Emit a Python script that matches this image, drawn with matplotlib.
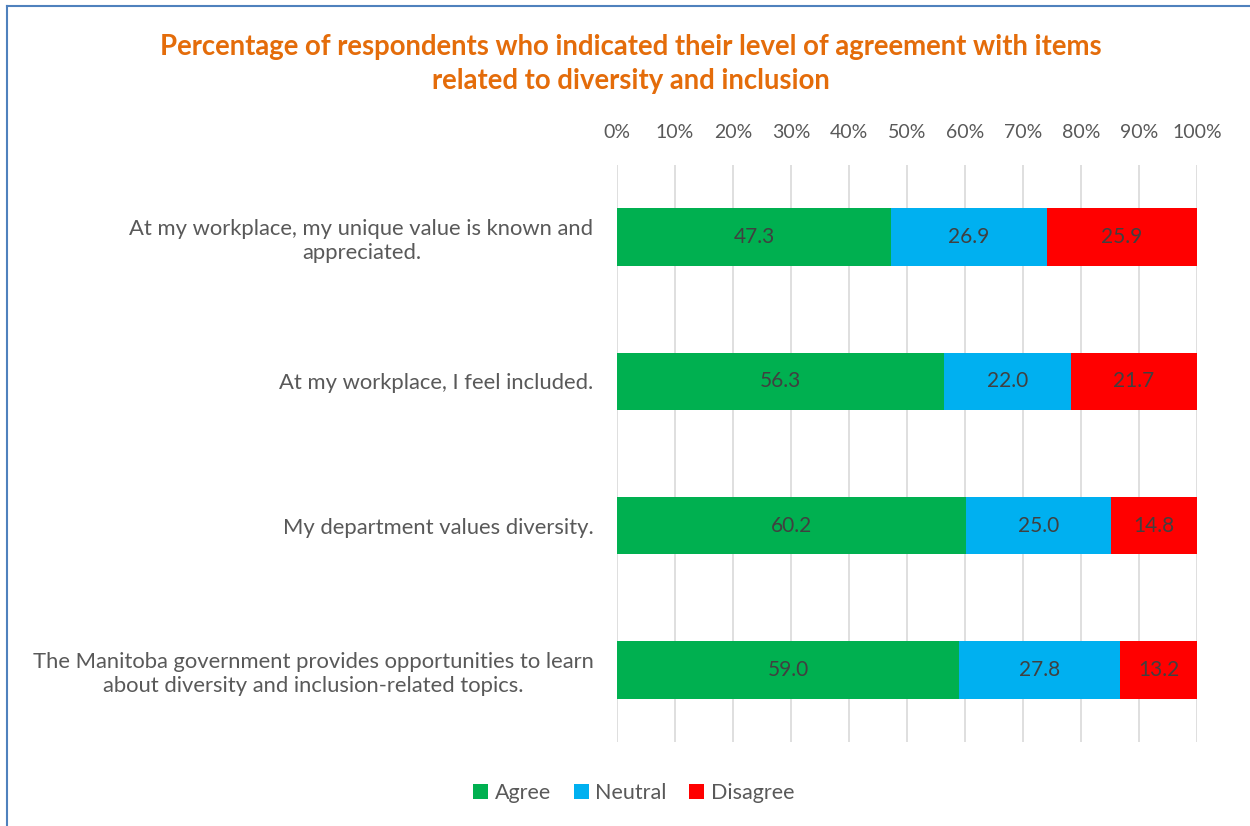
import matplotlib
matplotlib.use("Agg")
import matplotlib.pyplot as plt
from matplotlib.lines import Line2D
import numpy as np

plt.rcParams['font.family'] = ['Lato', 'DejaVu Sans']

categories = [
    "At my workplace, my unique value is known and\nappreciated.",
    "At my workplace, I feel included.",
    "My department values diversity.",
    "The Manitoba government provides opportunities to learn\nabout diversity and inclusion-related topics.",
]
agree = [47.3, 56.3, 60.2, 59.0]
neutral = [26.9, 22.0, 25.0, 27.8]
disagree = [25.9, 21.7, 14.8, 13.2]
series_names = ["Agree", "Neutral", "Disagree"]
colors = ["#00B050", "#00B0F0", "#FF0000"]
tick_labels = [f"{v}%" for v in range(0, 101, 10)]

fig = plt.figure(figsize=(12.5, 8.26), dpi=100)
ax = fig.add_axes([617 / 1250, 1 - 742 / 826, 580 / 1250, 577 / 826])

data = np.array([agree, neutral, disagree])
shares = data / data.sum(axis=0) * 100  # 100% stacked
y = np.arange(len(categories))
left = np.zeros(len(categories))
for name, col, vals, raw in zip(series_names, colors, shares, data):
    ax.barh(y, vals, left=left, height=0.4, color=col, label=name, zorder=2)
    for yi, l, v, r in zip(y, left, vals, raw):
        ax.text(l + v / 2, yi, f"{r:.1f}", ha="center", va="center",
                fontsize=15, color="#404040", zorder=3)
    left += vals

ax.set_xlim(0, 100)
ax.set_ylim(len(categories) - 0.5, -0.5)
ax.set_xticks(np.arange(0, 101, 10))
ax.set_xticklabels(tick_labels)
ax.xaxis.tick_top()
ax.tick_params(axis="x", length=0, pad=17, labelsize=14, labelcolor="#595959")
ax.set_yticks(y)
ax.set_yticklabels(categories, multialignment="center", linespacing=1.25)
ax.tick_params(axis="y", length=0, pad=17, labelsize=15.8, labelcolor="#595959")
ax.grid(axis="x", color="#D9D9D9", linewidth=1.2, zorder=0)
for s in ax.spines.values():
    s.set_visible(False)

fig.text(0.505, 1 - 64 / 826,
         "Percentage of respondents who indicated their level of agreement with items\nrelated to diversity and inclusion",
         ha="center", va="center", fontsize=19.8, fontweight="bold", color="#E46C0A",
         linespacing=1.42)

leg = fig.legend(loc="center", bbox_to_anchor=(0.507, 1 - 793 / 826), ncol=3,
                 frameon=False, fontsize=15.5, handlelength=0.7, handleheight=0.7,
                 handletextpad=0.3, columnspacing=1.05)
for t in leg.get_texts():
    t.set_color("#595959")

# chart frame (top and left edges)
fig.add_artist(Line2D([7 / 1250, 1], [1 - 6 / 826, 1 - 6 / 826], color="#4F81BD", lw=1.5))
fig.add_artist(Line2D([7 / 1250, 7 / 1250], [0, 1 - 6 / 826], color="#4F81BD", lw=1.5))

fig.savefig("out.png", dpi=100)
